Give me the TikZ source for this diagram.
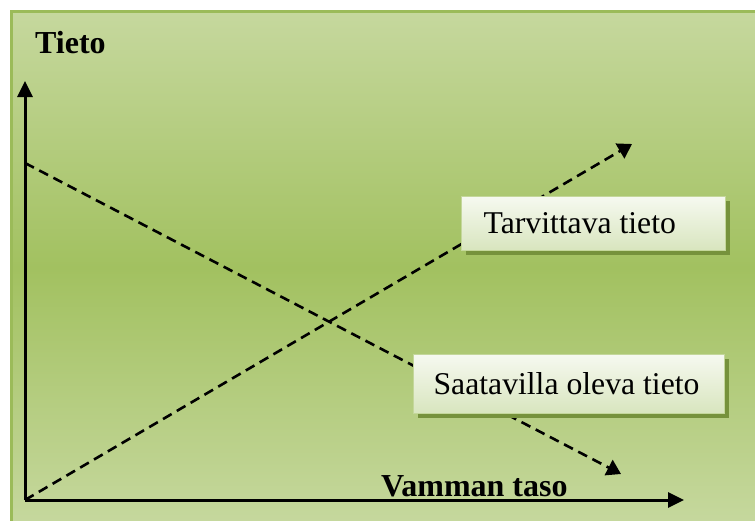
\documentclass[tikz,border=0pt]{standalone}
\usepackage{fontspec}
\setmainfont{Liberation Serif}
\usetikzlibrary{arrows.meta,shadows}
\definecolor{bgLight}{RGB}{198,216,158}
\definecolor{bgMid}{RGB}{162,193,96}
\definecolor{frameC}{RGB}{155,187,89}
\definecolor{shadowC}{RGB}{118,146,60}
\definecolor{boxTop}{RGB}{246,249,240}
\definecolor{boxBot}{RGB}{216,229,190}
\definecolor{boxLine}{RGB}{196,215,155}
\tikzset{
  axisline/.style={line width=3pt,-{Triangle[width=15pt,length=16pt]}},
  trendline/.style={line width=2.6pt,dash pattern=on 10pt off 6pt,-{Triangle[width=17pt,length=14pt]}},
  labelbox/.style={draw=boxLine,line width=1.2pt,top color=boxTop,bottom color=boxBot,
    inner xsep=20pt,inner ysep=0pt,anchor=north west,
    font=\fontsize{31.7}{36}\selectfont,
    drop shadow={shadow xshift=4pt,shadow yshift=-4pt,fill=shadowC,opacity=1}},
  axislabel/.style={font=\fontsize{32}{36}\selectfont\bfseries,anchor=base west,inner sep=0pt}
}
\begin{document}
\begin{tikzpicture}[x=1pt,y=-1pt]
\useasboundingbox (0,0) rectangle (755,520);
\fill[white] (0,0) rectangle (755,520);
\shade[top color=bgLight,bottom color=bgLight,middle color=bgMid] (10,10) rectangle (760,525);
\draw[frameC,line width=3pt] (760,11.5) -- (11.5,11.5) -- (11.5,525);
\coordinate (o) at (25,500);
\coordinate (ytip) at (25,81);
\coordinate (xtip) at (684,500);
\coordinate (r1) at (632,144);
\coordinate (f0) at (25,163);
\coordinate (f1) at (621,474);
\draw[trendline] (o) -- (r1);
\draw[trendline] (f0) -- (f1);
\node[labelbox,minimum width=264pt,minimum height=54pt] (need) at (461,196) {\makebox[224pt][l]{\hspace{2pt}Tarvittava tieto}};
\node[labelbox,minimum width=311pt,minimum height=59pt] (avail) at (413,354) {\makebox[271pt][l]{Saatavilla oleva tieto}};
\draw[axisline] (o) -- (ytip);
\draw[axisline] (o) -- (xtip);
\node[axislabel] (ylab) at (35,53) {Tieto};
\node[axislabel] (xlab) at (381,496) {Vamman taso};
\end{tikzpicture}
\end{document}
